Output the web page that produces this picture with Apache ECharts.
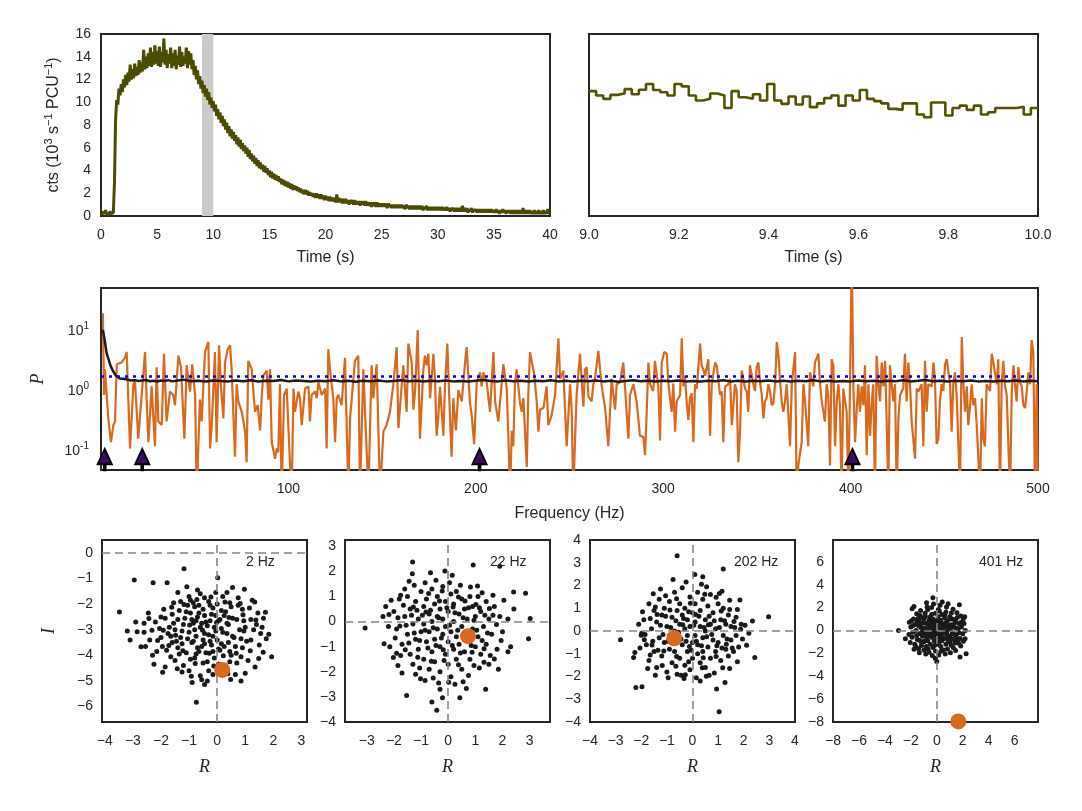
<!DOCTYPE html>
<html><head><meta charset="utf-8">
<script src="https://cdn.jsdelivr.net/npm/echarts@6/dist/echarts.min.js"></script>
<style>html,body{margin:0;padding:0;background:#fff}#c{width:1082px;height:811px}</style>
</head><body><div id="c"></div>
<script>
// ---------------- DATA ----------------
// Light curve (10^3 cts/s/PCU), 0.1 s samples starting at t = 0
const lcStart = 0, lcStep = 0.1;
const lcCounts = [
0.3,0.1,0.4,0.2,0.5,0.2,0.3,0.1,0.4,0.2,0.3,
0.3,3.0,8.5,10.2,9.8,11.2,10.6,11.6,10.9,12.0,
11.3,12.4,11.5,12.6,11.8,13.3,12.0,12.9,12.1,13.4,
12.3,13.1,12.4,13.7,12.6,13.5,12.7,14.6,12.9,14.0,
13.0,14.3,13.2,14.8,13.1,14.4,13.3,15.0,13.4,14.5,
13.2,14.9,13.1,14.4,13.5,15.6,13.3,14.6,13.0,14.2,
13.4,14.8,13.0,14.3,13.2,14.6,12.9,14.1,13.3,14.9,
13.1,14.4,13.2,14.0,13.4,14.8,13.0,14.5,13.3,14.3,
12.9,13.7,12.4,13.2,12.0,12.8,11.6,12.3,11.2,11.9,
10.8,11.5,10.5,11.2,10.2,10.9,9.8,10.4,9.5,10.1,
9.2,9.8,8.8,9.4,8.5,9.1,8.2,8.8,7.9,8.5,
7.6,8.2,7.3,7.9,7.0,7.6,6.8,7.4,6.6,7.1,
6.3,6.9,6.1,6.7,5.9,6.4,5.7,6.2,5.5,6.0,
5.2,5.8,5.0,5.5,4.8,5.3,4.6,5.1,4.4,4.9,
4.2,4.7,4.1,4.5,3.9,4.4,3.8,4.2,3.6,4.0,
3.4,3.9,3.3,3.7,3.2,3.6,3.1,3.5,3.0,3.3,
2.8,3.2,2.7,3.1,2.6,3.0,2.5,2.9,2.4,2.8,
2.3,2.7,2.3,2.6,2.2,2.5,2.1,2.4,2.0,2.3,
1.9,2.3,1.9,2.2,1.8,2.1,1.8,2.0,1.7,2.0,
1.6,2.0,1.6,1.9,1.5,1.9,1.5,1.8,1.4,1.8,
1.4,1.7,1.3,1.7,1.3,1.6,1.3,1.6,1.2,1.9,
1.2,1.6,1.2,1.5,1.1,1.5,1.1,1.5,1.1,1.4,
1.0,1.4,1.1,1.4,1.0,1.4,1.0,1.3,1.0,1.3,
0.9,1.3,1.0,1.3,0.9,1.3,0.9,1.2,0.9,1.2,
0.8,1.2,0.9,1.2,0.8,1.2,0.8,1.1,0.8,1.1,
0.8,1.1,0.8,1.1,0.7,1.1,0.8,1.0,0.7,1.0,
0.7,1.0,0.7,1.0,0.7,1.0,0.7,1.0,0.7,0.9,
0.6,1.0,0.7,0.9,0.6,0.9,0.6,0.9,0.6,0.9,
0.6,0.9,0.6,0.9,0.6,0.9,0.5,0.8,0.6,0.9,
0.5,0.8,0.5,0.8,0.5,0.8,0.5,0.8,0.5,0.8,
0.5,0.8,0.5,0.8,0.5,0.7,0.5,0.8,0.5,0.7,
0.4,0.7,0.5,0.7,0.4,0.7,0.4,0.7,0.4,0.7,
0.4,0.9,0.4,0.7,0.4,0.7,0.3,0.6,0.4,0.7,
0.3,0.6,0.4,0.6,0.3,0.6,0.3,0.6,0.3,0.6,
0.3,0.6,0.3,0.6,0.3,0.6,0.3,0.6,0.3,0.5,
0.3,0.6,0.3,0.5,0.2,0.5,0.3,0.6,0.3,0.5,
0.2,0.5,0.3,0.5,0.2,0.5,0.2,0.5,0.2,0.5,
0.2,0.5,0.2,0.5,0.2,0.7,0.2,0.5,0.2,0.5,
0.2,0.5,0.2,0.4,0.2,0.5,0.2,0.4,0.2,0.5,
0.2,0.4,0.2,0.5,0.2,0.4,0.2,0.6,0.2,0.4
];
// Zoomed light curve, binned, from 9.0 s to 10.0 s
const zoomStart = 9.0, zoomEnd = 10.0;
const zoomCounts = [10.98,10.6,10.3,10.65,10.77,11.15,10.7,11.1,11.6,11.08,10.88,10.6,11.6,11.4,10.6,10.15,10.3,10.77,10.6,9.5,
10.98,10.44,10.3,10.7,10.15,11.6,10.15,9.86,10.5,9.8,10.5,9.57,9.9,10.36,10.6,9.7,10.6,10.15,11.08,10.3,
10.1,9.9,9.42,9.33,9.9,9.9,8.92,8.68,9.98,9.98,8.83,9.5,9.7,9.33,9.7,8.92,9.12,9.5,9.5,9.5,9.6,8.92,9.5];
const bandRange = [9, 10];

// Power spectrum [frequency Hz, power]
const pdsPower = [
[1,20],[1.6,0.86],[2.1,2.3],[3.9,0.35],[5.3,0.14],[6.6,0.27],[7.5,0.31],[8.4,2.8],[11.0,3.0],[12.8,3.6],[13.7,4.5],[15.5,0.11],[17.3,1.3],[18.1,1.5],[19.9,0.16],[23.5,4.5],[24.4,0.67],[25.3,0.14],[27.0,1.2],[28.8,0.12],[29.7,2.5],[30.6,0.31],[32.4,0.27],[33.6,4.2],[35.0,0.31],[36.8,0.98],[38.6,0.86],[39.5,0.58],[41.3,3.9],[42.7,2.5],[44.5,0.16],[45.7,2.7],[47.5,0.98],[48.7,2.8],[50.2,0.86],[51.1,0.02],[52.8,0.72],[53.7,0.31],[55.5,4.5],[57.3,6.6],[58.2,0.11],[59.1,0.27],[60.8,4.5],[61.7,0.14],[63.0,5.8],[64.0,1.2],[65.3,0.35],[66.2,3.0],[67.6,5.0],[68.9,5.8],[69.7,2.3],[71.5,0.08],[72.4,1.3],[73.3,0.67],[75.1,0.45],[76.9,0.21],[77.7,0.065],[78.6,3.2],[80.4,2.3],[82.2,0.45],[83.6,0.58],[84.9,0.22],[85.8,0.86],[86.6,1.8],[88.4,2.2],[89.3,0.72],[90.2,2.3],[91.1,0.14],[92.9,0.074],[93.8,0.11],[94.6,0.095],[95.5,1.3],[96.4,0.02],[97.7,0.86],[99.1,1.1],[100.9,0.057],[101.8,0.02],[102.7,1.1],[103.5,0.45],[105.3,0.98],[106.2,0.76],[107.1,0.27],[108.9,1.1],[110.7,1.2],[111.5,0.31],[112.4,0.86],[114.2,0.98],[115.1,0.76],[116.0,1.4],[117.8,0.86],[119.6,1.1],[120.4,0.11],[121.3,5.0],[122.2,2.3],[124.0,0.72],[124.9,0.14],
[125.8,0.76],[126.6,0.86],[128.4,0.58],[130.2,3.6],[132.0,0.02],[132.9,0.35],[135.5,3.2],[137.3,3.9],[138.2,0.02],[140.0,2.3],[140.9,0.45],[142.7,0.02],[144.4,2.7],[145.3,0.76],[147.1,2.8],[148.9,0.02],[150.7,0.21],[152.4,0.27],[154.2,0.45],[156.0,1.3],[157.8,5.4],[158.7,0.24],[160.4,1.2],[161.3,2.7],[163.1,0.45],[164.0,6.2],[165.8,3.0],[166.7,0.49],[167.6,0.98],[169.0,10.4],[170.2,0.16],[172.0,2.3],[172.9,3.9],[173.8,2.7],[174.7,4.2],[175.6,0.76],[177.4,4.2],[178.2,1.6],[179.1,0.18],[180.0,0.38],[180.9,1.18],[182.7,0.18],[183.6,1.3],[184.8,6.2],[186.2,0.4],[187.1,0.08],[188.0,0.76],[189.4,0.22],[190.7,1.04],[192.5,0.67],[194.2,2.8],[195.1,5.4],[196.9,0.63],[197.8,0.4],[199.1,0.13],[200.5,1.4],[202.3,2.05],[203.1,1.2],[204.0,2.05],[205.8,1.4],[207.6,0.45],[209.4,4.5],[210.3,0.67],[212.0,0.31],[213.8,1.3],[214.7,2.8],[216.5,1.1],[217.4,0.17],[218.3,0.02],[219.2,0.22],[220.0,0.12],[220.9,1.3],[221.8,2.3],[223.6,0.63],[224.5,0.45],[225.4,0.76],[227.2,0.054],[228.0,0.86],[228.9,4.5],[229.8,4.7],[231.1,1.93],[232.5,0.67],[233.4,0.21],[234.3,0.49],[236.1,0.52],[237.8,1.2],[238.7,0.27],[240.5,0.4],[242.3,0.86],[244.1,7.6],[245.0,1.6],[246.7,2.2],[248.5,0.12],
[250.3,1.3],[251.2,0.45],[252.0,0.02],[253.8,0.86],[255.6,4.2],[257.4,0.55],[258.3,2.3],[259.2,2.5],[260.1,0.81],[261.8,0.67],[262.7,1.3],[263.6,1.6],[265.4,4.7],[267.2,1.2],[269.0,0.52],[270.7,0.12],[272.5,1.6],[274.3,0.49],[275.2,1.3],[277.0,1.4],[278.7,3.0],[279.6,1.2],[281.4,0.16],[282.3,0.86],[284.1,1.3],[285.8,0.67],[287.6,0.18],[289.4,0.17],[290.3,0.085],[291.2,0.45],[292.1,3.0],[293.0,1.3],[294.7,1.0],[295.6,3.2],[297.4,1.2],[298.3,0.15],[299.2,3.0],[300.6,4.5],[301.9,4.2],[302.8,1.3],[304.5,0.45],[305.4,1.33],[306.3,0.21],[307.2,0.67],[309.0,0.86],[309.9,7.6],[310.8,1.2],[311.6,1.8],[312.5,0.67],[313.4,0.33],[314.3,0.76],[315.2,0.92],[316.1,0.14],[317.0,1.3],[317.9,1.1],[319.7,6.2],[320.5,2.7],[321.4,2.3],[322.3,1.8],[324.1,3.4],[325.0,0.18],[325.9,1.3],[327.7,3.0],[328.5,2.7],[329.4,1.6],[330.3,0.86],[331.2,0.98],[332.1,0.14],[333.0,1.18],[333.9,1.1],[334.8,1.3],[335.7,1.6],[336.6,0.27],[338.3,1.3],[339.2,1.0],[340.1,0.065],[341.0,0.21],[341.9,2.2],[343.7,1.1],[344.6,0.98],[345.4,0.45],[346.3,2.7],[348.1,1.3],[349.0,1.0],[349.9,2.5],[350.8,3.0],[351.7,1.4],[352.6,0.86],[353.5,0.35],[354.3,0.67],[355.2,0.76],[356.1,1.3],[357.0,0.98],[357.9,0.58],[358.8,0.63],[359.7,1.3],[360.6,6.6],[361.5,3.9],[362.3,1.6],[363.2,0.67],[364.1,0.45],[365.0,0.67],[365.9,1.3],[366.8,0.4],[367.7,0.12],[368.6,1.3],[370.4,4.5],[371.2,0.02],[372.1,0.057],[373.9,0.14],
[374.8,1.3],[375.7,0.67],[377.4,0.12],[378.3,2.05],[380.1,1.2],[381.0,3.0],[382.8,4.2],[383.7,1.3],[384.6,0.67],[385.5,0.45],[386.3,0.31],[387.2,1.3],[388.1,0.86],[389.0,0.057],[389.9,3.4],[390.8,2.7],[391.7,0.12],[392.6,0.67],[393.5,1.3],[394.3,0.58],[395.2,0.02],[396.1,1.1],[397.9,0.45],[398.8,0.02],[399.7,1.3],[400.6,200],[401.5,1.1],[402.4,0.14],[403.2,0.45],[404.1,1.3],[405.0,0.45],[405.9,1.2],[406.8,0.58],[407.7,2.7],[408.6,0.085],[409.5,1.3],[410.4,0.18],[411.2,0.58],[412.1,1.3],[413.0,0.02],[413.9,3.9],[414.8,1.3],[415.7,0.67],[416.6,3.0],[417.5,1.2],[418.4,3.2],[419.3,0.27],[420.1,0.02],[421.0,2.7],[421.9,1.3],[422.8,0.67],[423.7,1.3],[424.6,0.02],[425.5,0.35],[426.4,0.86],[427.3,0.98],[428.1,1.1],[429.0,4.2],[429.9,0.67],[430.8,3.0],[431.7,1.3],[432.6,0.31],[433.5,0.31],[434.4,0.074],[435.3,1.1],[436.2,0.98],[437.9,1.3],[438.8,0.12],[439.7,3.2],[440.6,0.45],[441.5,1.3],[442.4,1.4],[443.3,1.2],[444.2,3.0],[445.0,1.6],[445.9,0.13],[446.8,0.16],[447.7,0.67],[448.6,1.3],[449.5,1.0],[450.4,2.8],[451.3,3.4],[452.2,2.05],[453.1,1.3],[453.9,0.21],[454.8,1.3],[455.7,2.05],[456.6,0.86],[458.4,0.02],[459.3,8.0],[460.2,1.3],[461.1,0.45],[462.0,1.2],[462.8,0.27],[463.7,0.55],[464.6,1.3],[465.5,0.58],[466.4,0.76],[467.3,0.27],[469.1,0.02],[470.0,0.76],[470.8,0.16],[471.7,0.12],[472.6,1.3],[474.4,1.0],[475.3,4.2],[476.2,3.0],[478.0,1.3],[478.8,3.4],[479.7,0.02],[480.6,1.3],[481.5,3.2],[482.4,1.2],[483.3,0.86],[485.1,0.02],[486.0,0.98],[486.9,2.7],[487.7,1.3],[488.6,0.67],[489.5,2.5],[490.4,1.4],[491.3,1.2],[492.2,0.58],[493.1,0.52],[494.0,0.98],[494.9,2.05],[495.8,1.3],[496.6,7.1],[497.5,4.5],[498.4,0.02],[499.3,1.3],[500,0.02]
];
// Averaged power [frequency Hz, power]
const avgPower = [
[1,10.5],[2,7.0],[3,4.3],[4,3.4],[5,2.7],[6,2.3],[7,2.0],[8,1.8],[9,1.68],[10,1.62],[12,1.6],[14,1.56],[16,1.5],[18,1.52],[20,1.47],[22,1.5],[24,1.53],[26,1.46],[28,1.49],[30,1.44],[32,1.5],[34,1.47],[36,1.52],[38,1.45],[40,1.48],
[44,1.55],[48,1.46],[52,1.49],[56,1.44],[60,1.5],[64,1.47],[68,1.45],[72,1.5],[76,1.46],[80,1.52],[84,1.44],[88,1.49],[92,1.47],[96,1.53],[100,1.45],[104,1.5],[108,1.47],[112,1.44],[116,1.49],[120,1.46],
[124,1.51],[128,1.45],[132,1.48],[136,1.43],[140,1.49],[144,1.46],[148,1.5],[152,1.45],[156,1.47],[160,1.52],[164,1.46],[168,1.49],[172,1.44],[176,1.48],[180,1.46],[184,1.5],[188,1.45],[192,1.47],[196,1.44],[200,1.49],
[204,1.53],[208,1.47],[212,1.45],[216,1.5],[220,1.46],[224,1.48],[228,1.44],[232,1.49],[236,1.46],[240,1.51],[244,1.45],[248,1.48],[252,1.44],[256,1.49],[260,1.46],[264,1.5],[268,1.45],[272,1.48],[276,1.43],[280,1.47],
[284,1.52],[288,1.46],[292,1.49],[296,1.44],[300,1.48],[304,1.46],[308,1.5],[312,1.45],[316,1.47],[320,1.44],[324,1.49],[328,1.46],[332,1.51],[336,1.45],[340,1.48],[344,1.44],[348,1.49],[352,1.46],[356,1.5],[360,1.45],
[364,1.48],[368,1.44],[372,1.49],[376,1.46],[380,1.52],[384,1.45],[388,1.48],[392,1.44],[396,1.47],[400,1.45],[404,1.5],[408,1.46],[412,1.49],[416,1.44],[420,1.48],[424,1.46],[428,1.51],[432,1.45],[436,1.48],[440,1.53],
[444,1.46],[448,1.49],[452,1.44],[456,1.48],[460,1.46],[464,1.5],[468,1.45],[472,1.47],[476,1.44],[480,1.49],[484,1.46],[488,1.5],[492,1.45],[496,1.48],[500,1.46]
];
const detectLevel = 1.8;
const candFreqs = [2, 22, 202, 401];

// Phase-space clouds (R, I) for each candidate frequency
const cloud2 = [
[-3.48,-2.31],[-2.95,-1.06],[-2.28,-1.17],[-1.78,-1.17],[-1.18,-0.62],[0.02,-0.97],[-0.74,-5.83],[0.97,-1.42],[1.34,-1.92],[1.94,-4.05],[1.84,-3.18],[1.64,-3.88],[0.48,-4.94],[-0.45,-5.14],[-0.89,-5.06],[-1.94,-4.66],[-2.71,-3.66],[-2.85,-3.08],[-2.43,-2.56],
[-2.2,-2.7],[-2.0,-3.3],[-1.9,-2.2],[-1.8,-3.8],[-1.7,-2.9],[-1.6,-3.5],[-1.6,-2.4],[-1.5,-4.2],[-1.5,-3.0],[-1.4,-2.6],[-1.4,-3.7],[-1.3,-1.9],[-1.3,-3.3],[-1.2,-4.4],[-1.2,-2.8],[-1.1,-3.9],[-1.1,-2.3],[-1.0,-3.1],[-1.0,-1.7],[-1.0,-4.6],[-0.9,-2.6],[-0.9,-3.5],[-0.8,-2.1],[-0.8,-4.1],[-0.8,-3.0],[-0.7,-2.5],[-0.7,-3.7],[-0.6,-1.6],[-0.6,-4.8],[-0.6,-2.9],[-0.5,-3.4],[-0.5,-2.2],[-0.5,-4.3],[-0.4,-2.7],[-0.4,-3.9],[-0.3,-1.9],[-0.3,-3.2],[-0.3,-4.6],[-0.2,-2.4],[-0.2,-3.6],[-0.1,-2.9],[-0.1,-4.1],[0.0,-2.0],[0.0,-3.4],[0.1,-2.6],[0.1,-3.8],[0.2,-1.7],[0.2,-3.1],[0.3,-4.4],[0.3,-2.3],[0.4,-3.5],[0.4,-2.8],[0.5,-4.0],[0.5,-2.1],[0.6,-3.3],[0.7,-2.6],[0.7,-4.3],[0.8,-3.0],[0.9,-2.2],[0.9,-3.7],[1.0,-2.9],[1.1,-4.2],[1.2,-2.6],[1.2,-3.4],[1.3,-3.0],[1.4,-2.8],[1.5,-3.6],[1.6,-2.9],[1.0,-4.7],[-2.4,-3.4],[-2.6,-3.1],[-2.3,-4.0],[-2.0,-2.5],
[-0.95,-2.35],[-0.85,-2.75],[-0.75,-3.25],[-0.65,-2.05],[-0.55,-3.65],[-0.45,-2.45],[-0.35,-2.85],[-0.25,-3.45],[-0.15,-2.15],[-0.05,-3.05],[0.05,-2.65],[0.15,-3.55],[0.25,-2.45],[0.35,-3.15],[0.45,-1.95],[-1.25,-3.55],[-1.15,-2.55],[-1.05,-3.35],[-0.95,-4.15],[-0.85,-1.95],[-0.75,-2.65],[-0.65,-3.85],[-0.55,-2.75],[-0.45,-3.15],[-0.35,-4.25],[-0.25,-2.05],[-0.15,-3.85],[-0.05,-2.45],[0.05,-4.35],[0.15,-2.25],[0.25,-3.65],[0.35,-2.75],[0.45,-3.85],[0.55,-2.55],[0.65,-3.65],[0.75,-2.05],[0.85,-3.35],[0.95,-2.65],[1.05,-3.45],[1.15,-2.15],[-1.35,-2.25],[-1.45,-3.45],[-1.55,-2.75],[-1.65,-4.05],[-1.75,-3.15],[-1.85,-2.55],[-1.95,-3.65],[-2.05,-2.95],[-2.15,-3.85],[-1.25,-4.65],[-0.55,-4.95],[-0.15,-4.75],[0.25,-4.55],[0.65,-4.75],[0.75,-1.75],[0.35,-1.55],[-0.45,-1.75],[-0.95,-1.85],[-1.55,-1.95],[1.25,-1.85],[1.45,-2.35],[1.65,-2.55],[1.75,-3.35],[1.35,-4.45],[-2.45,-2.35],[-2.55,-3.65],[-1.05,-2.05],[-0.65,-2.35],[-0.25,-2.65],[0.15,-2.95],[0.55,-3.25],[0.95,-3.05],[-0.85,-3.45],[-1.25,-3.05],[-0.45,-3.55],[0.05,-3.75],[-1.65,-3.25],[-0.15,-3.25],[-0.75,-3.95],[0.45,-4.25],[-1.35,-3.95],[1.55,-3.15],[0.85,-4.05],[-2.25,-4.35],[-1.85,-4.45],[-0.35,-5.0],[0.85,-5.0],[-0.05,-1.55],[-0.7,-1.45],[-1.4,-1.55],[0.55,-1.35],[-3.1,-3.4],[-2.9,-2.7],[-3.2,-3.05],[-2.6,-2.75],
[-1.62,-2.12],[-1.18,-2.02],[-0.72,-1.82],[-0.22,-1.72],[0.28,-1.92],[0.82,-1.98],[-1.92,-3.02],[-1.48,-3.22],[-0.98,-2.82],[-0.52,-3.02],[-0.02,-2.72],[0.42,-2.52],[0.92,-2.42],[1.38,-2.62],[-2.12,-3.42],[-1.72,-3.62],[-1.22,-3.82],[-0.78,-4.32],[-0.28,-3.92],[0.22,-4.02],[0.68,-3.92],[1.18,-3.82],[-1.42,-4.52],[-0.92,-4.82],[-0.12,-4.42],[0.38,-4.72],[1.48,-4.12],[-2.32,-3.02],[1.72,-2.32],[-1.08,-1.32]
];
const cloud22 = [
[-1.31,2.37],[-1.32,1.91],[-1.44,1.61],[-0.12,2.02],[0.92,2.25],[1.9,2.2],[1.08,1.42],[2.41,1.18],[2.85,1.13],[3.02,0.12],[2.96,-0.68],[2.42,0.5],[2.3,-1.0],[-3.06,-0.26],[-2.36,-0.88],[-1.53,-2.94],[-0.6,-3.2],[-0.42,-3.53],[-0.21,-3.03],[0.43,-3.03],[0.67,-2.67],[1.38,-2.7],[1.7,-1.49],[-1.9,-1.26],[-2.02,-1.43],
[-2.0,0.4],[-1.9,-0.3],[-1.8,0.9],[-1.7,-0.9],[-1.6,0.2],[-1.5,-0.5],[-1.5,1.0],[-1.4,-1.3],[-1.4,0.5],[-1.3,-0.1],[-1.3,-1.7],[-1.2,0.8],[-1.2,-0.7],[-1.1,0.1],[-1.1,-1.1],[-1.0,1.2],[-1.0,-0.4],[-0.9,0.6],[-0.9,-1.5],[-0.9,-0.1],[-0.8,0.9],[-0.8,-0.8],[-0.7,0.3],[-0.7,-1.9],[-0.7,-0.4],[-0.6,1.3],[-0.6,-1.2],[-0.6,0.0],[-0.5,0.7],[-0.5,-0.7],[-0.5,-1.6],[-0.4,0.2],[-0.4,-0.3],[-0.4,1.0],[-0.3,-1.0],[-0.3,0.5],[-0.3,-2.0],[-0.2,-0.5],[-0.2,1.4],[-0.2,0.1],[-0.1,-1.3],[-0.1,0.8],[-0.1,-0.2],[0.0,-0.8],[0.0,0.4],[0.0,-1.7],[0.1,1.1],[0.1,-0.4],[0.1,-2.2],[0.2,0.0],[0.2,-1.1],[0.2,0.7],[0.3,-0.6],[0.3,-1.5],[0.3,1.2],[0.4,0.3],[0.4,-0.9],[0.5,-0.2],[0.5,0.9],[0.5,-1.9],[0.6,-1.2],[0.6,0.5],[0.7,0.1],[0.7,-0.7],[0.8,1.0],[0.8,-1.5],[0.9,-0.3],[0.9,0.6],[1.0,-1.0],[1.0,0.2],[1.1,-0.6],[1.1,1.0],[1.2,-1.3],[1.2,0.4],[1.3,-0.2],[1.4,0.8],[1.4,-0.9],[1.5,0.1],[1.6,-0.5],[1.7,0.6],[1.8,-1.1],[1.9,0.2],[2.0,-0.4],
[-1.95,-0.65],[-1.85,0.15],[-1.75,-1.35],[-1.65,0.65],[-1.55,-0.15],[-1.45,-0.85],[-1.35,0.25],[-1.25,-0.45],[-1.15,0.45],[-1.05,-0.75],[-0.95,0.25],[-0.85,-0.35],[-0.75,-1.05],[-0.65,0.45],[-0.55,-0.25],[-0.45,-0.95],[-0.35,0.15],[-0.25,-0.65],[-0.15,-1.55],[-0.05,0.55],[0.05,-0.15],[0.15,-0.95],[0.25,0.35],[0.35,-0.35],[0.45,-1.25],[0.55,0.15],[0.65,-0.45],[0.75,0.55],[0.85,-0.95],[0.95,0.05],[1.05,-0.35],[1.15,0.55],[1.25,-0.75],[1.35,0.25],[1.45,-0.45],[1.55,-1.35],[1.65,0.25],[-1.25,1.45],[-0.85,1.55],[-0.45,1.65],[0.05,1.55],[0.45,1.45],[1.25,1.15],[1.65,1.05],[-1.6,1.3],[-2.1,0.85],[-2.2,-0.2],[-2.15,-1.0],[-1.85,-1.75],[-1.2,-2.1],[-0.85,-2.35],[-0.35,-2.45],[0.25,-2.5],[0.75,-2.15],[1.15,-1.85],[1.5,-1.7],[1.95,-0.75],[2.2,0.1],[2.05,0.85],[-1.05,-1.85],[0.55,-2.4],[-0.55,-2.25],[0.95,-1.75],[-2.4,0.2],[-2.3,0.6],[-0.3,-2.7],[-1.7,-2.05],[2.2,-1.2],[1.85,-1.9],[0.15,1.85],[-0.65,1.95],[-1.75,1.05],
[-1.58,-1.12],[-1.12,-1.42],[-0.62,-1.58],[-0.18,-1.12],[0.38,-1.72],[0.88,-1.22],[1.32,-1.08],[-1.78,-0.18],[-1.28,0.58],[-0.82,0.38],[-0.32,0.82],[0.18,0.58],[0.62,0.82],[1.02,0.68],[1.52,0.52],[-0.72,1.12],[-0.22,1.22],[0.38,0.98],[0.82,1.38],[-1.02,-2.28],[0.02,-2.42],[1.32,-1.62],[-2.18,0.28],[1.78,-0.12]
];
const cloud202 = [
[-0.6,3.31],[1.2,2.73],[0.09,2.48],[0.4,2.38],[-0.76,2.26],[2.97,0.63],[2.34,0.44],[2.43,-1.17],[2.11,-0.63],[-2.81,-0.39],[-2.25,-0.95],[-2.3,-1.17],[-2.21,-2.48],[-1.97,-2.45],[0.94,-2.55],[1.27,-2.26],[1.04,-3.55],[-0.33,-2.09],[0.54,-1.99],[1.85,1.36],[-1.53,1.64],[-2.0,-0.19],[-1.98,-0.1],
[-1.9,0.5],[-1.8,-0.6],[-1.7,1.2],[-1.7,-1.3],[-1.6,0.1],[-1.5,-0.9],[-1.5,0.9],[-1.4,-1.6],[-1.4,0.4],[-1.3,-0.3],[-1.3,1.4],[-1.2,-1.1],[-1.2,0.7],[-1.1,-0.5],[-1.1,1.0],[-1.0,-1.8],[-1.0,0.2],[-0.9,-0.8],[-0.9,1.3],[-0.9,-0.2],[-0.8,0.6],[-0.8,-1.4],[-0.7,0.0],[-0.7,1.7],[-0.7,-0.9],[-0.6,0.9],[-0.6,-1.9],[-0.6,-0.4],[-0.5,0.3],[-0.5,1.2],[-0.5,-1.2],[-0.4,-0.6],[-0.4,0.7],[-0.4,1.9],[-0.3,-1.5],[-0.3,0.1],[-0.3,1.0],[-0.2,-0.9],[-0.2,0.5],[-0.2,-0.2],[-0.1,1.5],[-0.1,-1.7],[-0.1,0.2],[0.0,-0.5],[0.0,0.8],[0.0,-1.2],[0.1,1.2],[0.1,-0.2],[0.1,0.4],[0.2,-1.0],[0.2,1.7],[0.2,-0.6],[0.3,0.2],[0.3,-1.4],[0.3,0.9],[0.4,-0.3],[0.4,1.4],[0.4,-0.9],[0.5,0.5],[0.5,-1.6],[0.5,0.0],[0.6,1.1],[0.6,-0.7],[0.7,0.3],[0.7,-1.2],[0.7,1.6],[0.8,-0.4],[0.8,0.8],[0.9,-0.9],[0.9,0.1],[1.0,1.2],[1.0,-0.5],[1.1,0.5],[1.1,-1.3],[1.2,-0.2],[1.2,1.0],[1.3,-0.8],[1.3,0.3],[1.4,-1.1],[1.4,0.7],[1.5,-0.4],[1.5,0.2],[1.6,-0.9],[1.7,0.6],[1.7,-0.2],[1.8,-0.7],[1.9,0.3],
[-1.85,-0.15],[-1.65,0.55],[-1.55,-0.45],[-1.45,1.05],[-1.35,-0.85],[-1.25,0.25],[-1.15,-0.15],[-1.05,0.65],[-0.95,-0.45],[-0.85,0.15],[-0.75,-0.55],[-0.65,0.45],[-0.55,-0.05],[-0.45,-0.35],[-0.35,0.55],[-0.25,-0.45],[-0.15,0.85],[-0.05,-0.85],[0.05,0.25],[0.15,-0.45],[0.25,0.65],[0.35,-0.65],[0.45,0.15],[0.55,-0.25],[0.65,0.65],[0.75,-0.15],[0.85,0.45],[0.95,-0.65],[1.05,0.15],[1.15,-0.75],[1.25,0.45],[1.35,-0.35],[1.45,0.95],[1.55,-0.75],[1.65,0.15],[1.05,1.65],[1.15,1.75],[0.55,1.95],[0.35,2.05],[-0.25,2.15],[-1.05,1.55],[-1.25,1.85],[1.45,1.35],[1.75,0.95],[1.95,-0.35],[2.05,0.25],[1.75,-1.35],[1.45,-1.65],[0.85,-1.85],[0.15,-2.05],[-0.45,-1.95],[-0.95,-2.05],[-1.45,-1.95],[-1.75,-1.65],[-2.05,-0.75],[-1.95,0.85],[-0.65,-1.55],[0.65,-1.95],[-0.15,-1.35],[-1.65,-1.05],[-2.1,0.3],[2.2,-0.1],[0.3,-2.2],
[-1.58,-0.62],[-1.12,-0.88],[-0.62,-1.12],[-0.12,-0.68],[0.42,-1.18],[0.92,-1.12],[1.32,-0.58],[-1.38,0.72],[-0.88,0.92],[-0.38,0.28],[0.12,0.72],[0.62,0.28],[1.12,0.88],[1.62,0.42],[-0.62,1.42],[-0.08,1.22],[0.48,1.62],[0.92,1.48],[-1.18,-1.52],[-0.28,-1.92],[0.38,-1.62],[1.18,-1.62],[-1.88,-0.38],[1.88,0.08]
];
const cloud401 = [
[-0.3,2.86],[-2.95,0],[0,-2.71],[2.26,-2.04],[1.79,-2.33],[1.74,2.24],[0.87,2.33],[-0.79,2.42],[-1.76,2.1],[-1.9,1.9],[2.18,-0.73],[2.05,1.02],[-2.42,-0.73],
[-2.0,0.3],[-1.9,-0.6],[-1.8,1.0],[-1.7,-1.2],[-1.6,0.0],[-1.5,-0.8],[-1.5,0.8],[-1.4,-1.6],[-1.4,0.4],[-1.3,-0.3],[-1.3,1.3],[-1.2,-1.0],[-1.2,0.6],[-1.1,-0.5],[-1.1,1.1],[-1.0,-1.7],[-1.0,0.2],[-0.9,-0.9],[-0.9,1.5],[-0.9,-0.2],[-0.8,0.6],[-0.8,-1.4],[-0.7,0.0],[-0.7,1.8],[-0.7,-0.9],[-0.6,0.9],[-0.6,-1.9],[-0.6,-0.4],[-0.5,0.3],[-0.5,1.2],[-0.5,-1.2],[-0.4,-0.6],[-0.4,0.7],[-0.4,2.0],[-0.3,-1.5],[-0.3,0.1],[-0.3,1.0],[-0.2,-0.9],[-0.2,0.5],[-0.2,-0.2],[-0.1,1.5],[-0.1,-1.8],[-0.1,0.2],[0.0,-0.5],[0.0,0.8],[0.0,-1.2],[0.1,1.2],[0.1,-0.2],[0.1,0.4],[0.2,-1.0],[0.2,1.7],[0.2,-0.6],[0.3,0.2],[0.3,-1.4],[0.3,0.9],[0.4,-0.3],[0.4,1.4],[0.4,-0.9],[0.5,0.5],[0.5,-1.7],[0.5,0.0],[0.6,1.1],[0.6,-0.7],[0.7,0.3],[0.7,-1.2],[0.7,1.6],[0.8,-0.4],[0.8,0.8],[0.9,-0.9],[0.9,0.1],[1.0,1.2],[1.0,-0.5],[1.1,0.5],[1.1,-1.3],[1.2,-0.2],[1.2,1.0],[1.3,-0.8],[1.3,0.3],[1.4,-1.1],[1.4,0.7],[1.5,-0.4],[1.5,0.2],[1.6,-0.9],[1.7,0.6],[1.7,-0.2],[1.8,-0.7],[1.9,0.3],[2.0,-0.3],[2.1,0.6],
[-1.85,-0.15],[-1.65,0.55],[-1.55,-0.45],[-1.45,1.05],[-1.35,-0.85],[-1.25,0.25],[-1.15,-0.15],[-1.05,0.65],[-0.95,-0.45],[-0.85,0.15],[-0.75,-0.55],[-0.65,0.45],[-0.55,-0.05],[-0.45,-0.35],[-0.35,0.55],[-0.25,-0.45],[-0.15,0.85],[-0.05,-0.85],[0.05,0.25],[0.15,-0.45],[0.25,0.65],[0.35,-0.65],[0.45,0.15],[0.55,-0.25],[0.65,0.65],[0.75,-0.15],[0.85,0.45],[0.95,-0.65],[1.05,0.15],[1.15,-0.75],[1.25,0.45],[1.35,-0.35],[1.45,0.95],[1.55,-0.75],[1.65,0.15],[1.85,1.25],[1.55,1.55],[1.25,1.85],[0.75,2.05],[0.25,2.2],[-0.25,2.3],[-0.75,2.05],[-1.25,1.75],[-1.55,1.45],[-1.95,0.85],[-2.15,-0.35],[-2.05,-1.05],[-1.75,-1.65],[-1.35,-1.95],[-0.85,-2.05],[-0.35,-2.2],[0.15,-2.15],[0.65,-2.05],[1.05,-1.95],[1.45,-1.75],[1.85,-1.35],[2.05,-0.95],[2.2,0.0],[2.15,1.2],[1.0,-1.0],[-1.0,1.0],[-1.0,-1.0],[1.0,1.0],
[-1.62,-1.42],[-1.18,-1.32],[-0.68,-1.62],[-0.18,-1.32],[0.32,-1.82],[0.82,-1.62],[1.28,-1.52],[1.68,-1.12],[-1.82,0.42],[-1.38,0.92],[-0.88,1.22],[-0.38,1.42],[0.12,1.82],[0.62,1.38],[1.12,1.52],[1.58,1.12],[1.88,0.72],[-2.12,0.72],[-0.12,-2.42],[0.42,2.48]
];
const clouds = [cloud2, cloud22, cloud202, cloud401];
// Summed vector (orange dot) per panel
const sumVectors = [[0.18,-4.57],[0.73,-0.58],[-0.71,-0.32],[1.66,-7.95]];
const panelLabels = ['2 Hz', '22 Hz', '202 Hz', '401 Hz'];
// Axis ranges for the bottom panels: [min, max, step]
const cloudX = [[-4.1,3.2,1],[-3.8,3.75,1],[-4,4,1],[-8,7.8,2]];
const cloudY = [[-6.6,0.5,1],[-4,3.25,1],[-4,4,1],[-8,7.9,2]];
const pMin = 0.048, pMax = 52.6;

// ---------------- STYLE / LAYOUT ----------------
const FONT = "'Liberation Sans', Arial, sans-serif";
const SERIF = "'Liberation Serif', 'DejaVu Serif', serif";
const INK = '#262626';
const ORANGE = '#d9691f';
const OLIVE = '#4b4b02';

const gridBoxes = [
  {left:101, top:34, width:449, height:182},
  {left:589, top:34, width:449, height:182},
  {left:101, top:288, width:937, height:182},
  {left:102, top:540, width:205, height:182},
  {left:345, top:540, width:205, height:182},
  {left:590, top:540, width:205, height:182},
  {left:833, top:540, width:205, height:182}
];
const grids = gridBoxes.map(g => Object.assign({show:true, borderColor:INK, borderWidth:2, backgroundColor:'#fff', containLabel:false, outerBoundsMode:'none'}, g));

function baseAxis(gi, extra) {
  return Object.assign({
    type:'value', gridIndex:gi,
    axisLine:{show:false}, axisTick:{show:false}, splitLine:{show:false},
    axisLabel:{color:INK, fontSize:14, fontFamily:FONT, margin:10},
    nameTextStyle:{color:INK, fontSize:16, fontFamily:FONT},
    nameLocation:'middle'
  }, extra);
}
const isMult = (v, s) => Math.abs(v/s - Math.round(v/s)) < 1e-9;
const minus = v => (v < 0 ? '\u2212' : '') + Math.abs(Math.round(v*100)/100);

const xAxes = [
  baseAxis(0, {min:0, max:40, interval:5, name:'Time (s)', nameGap:34, axisLabel:{color:INK, fontSize:14, fontFamily:FONT, margin:12}}),
  baseAxis(1, {min:9, max:10, interval:0.2, name:'Time (s)', nameGap:34, axisLabel:{color:INK, fontSize:14, fontFamily:FONT, margin:12, formatter:v=>v.toFixed(1)}}),
  baseAxis(2, {min:0, max:500, interval:100, name:'Frequency (Hz)', nameGap:36, axisLabel:{color:INK, fontSize:14, fontFamily:FONT, margin:12, showMinLabel:false}})
];
const yAxes = [
  baseAxis(0, {min:0, max:16, interval:2, name:'{t|cts (10}{s|3}{t| s}{s|\u22121}{t| PCU}{s|\u22121}{t|)}', nameGap:36,
    nameTextStyle:{rich:{t:{fontSize:16, fontFamily:FONT, color:INK, lineHeight:22}, s:{fontSize:11, fontFamily:FONT, color:INK, verticalAlign:'top', lineHeight:22}}}}),
  baseAxis(1, {min:0, max:16, interval:2, axisLabel:{show:false}}),
  baseAxis(2, {type:'log', logBase:10, min:pMin, max:pMax, name:'P', nameGap:54,
    nameTextStyle:{fontFamily:SERIF, fontStyle:'italic', fontSize:18, color:INK},
    axisLabel:{color:INK, fontFamily:FONT, margin:12, showMinLabel:false, showMaxLabel:false,
      formatter:v=>'{b|10}{e|' + String(Math.round(Math.log10(v))) + '}',
      rich:{b:{fontSize:14, fontFamily:FONT, color:INK, lineHeight:20}, e:{fontSize:10, fontFamily:FONT, color:INK, verticalAlign:'top', lineHeight:20}}}})
];
for (let k = 0; k < 4; k++) {
  const [x0, x1, xs] = cloudX[k], [y0, y1, ys] = cloudY[k];
  xAxes.push(baseAxis(3+k, {min:x0, max:x1, minInterval:xs, maxInterval:xs, splitNumber:8, name:'R', nameGap:36,
    nameTextStyle:{fontFamily:SERIF, fontStyle:'italic', fontSize:18, color:INK},
    axisLabel:{color:INK, fontSize:14, fontFamily:FONT, margin:12, formatter:minus, showMinLabel:isMult(x0,xs), showMaxLabel:isMult(x1,xs)}}));
  yAxes.push(baseAxis(3+k, {min:y0, max:y1, minInterval:ys, maxInterval:ys, splitNumber:8,
    name: k === 0 ? 'I' : '', nameGap:44,
    nameTextStyle:{fontFamily:SERIF, fontStyle:'italic', fontSize:18, color:INK},
    axisLabel:{color:INK, fontSize:14, fontFamily:FONT, margin:9, formatter:minus, showMinLabel:isMult(y0,ys), showMaxLabel:isMult(y1,ys)}}));
}

const series = [];
// light curve
series.push({type:'line', xAxisIndex:0, yAxisIndex:0, data: lcCounts.map((v,i)=>[lcStart + i*lcStep, v]),
  showSymbol:false, symbol:'none', lineStyle:{color:OLIVE, width:3}, z:3,
  markArea:{silent:true, itemStyle:{color:'#cbcbcb'}, data:[[{xAxis:bandRange[0]},{xAxis:bandRange[1]}]], z:1}});
// zoomed light curve (step)
const zBin = (zoomEnd - zoomStart) / zoomCounts.length;
const zData = zoomCounts.map((v,i)=>[zoomStart + i*zBin, v]);
zData.push([zoomEnd, zoomCounts[zoomCounts.length-1]]);
series.push({type:'line', xAxisIndex:1, yAxisIndex:1, data:zData, step:'end', symbol:'none', lineStyle:{color:'#545400', width:2.6}});
// power spectrum
series.push({type:'line', xAxisIndex:2, yAxisIndex:2, data:pdsPower, symbol:'none', clip:true, lineStyle:{color:ORANGE, width:2.2}, z:2});
series.push({type:'line', xAxisIndex:2, yAxisIndex:2, data:avgPower, symbol:'none', clip:true, lineStyle:{color:'#1c1c1c', width:2.5}, z:4,
  markLine:{silent:true, symbol:'none', label:{show:false}, lineStyle:{color:'#0000ff', type:[3,5], width:2.5, cap:'butt'}, data:[{yAxis:detectLevel}]}});
series.push({type:'scatter', xAxisIndex:2, yAxisIndex:2, data:candFreqs.map(f=>[f, pMin]), clip:false, z:6,
  symbol:'path://M7,0 L14,15 L0,15 Z M6,15 L8,15 L8,21 L6,21 Z', symbolSize:[14,21], symbolOffset:[0,-10.5],
  itemStyle:{color:'#3a0a68', borderColor:'#000', borderWidth:2, opacity:1}});
// phase-space panels
for (let k = 0; k < 4; k++) {
  series.push({type:'scatter', xAxisIndex:3+k, yAxisIndex:3+k, data:clouds[k], symbolSize:5, itemStyle:{color:'#1a1a1a', opacity:1}, z:2,
    markLine:{silent:true, symbol:'none', label:{show:false}, lineStyle:{color:'#858585', type:[8,5], width:1.6}, data:[{xAxis:0},{yAxis:0}], z:3}});
  series.push({type:'scatter', xAxisIndex:3+k, yAxisIndex:3+k, data:[sumVectors[k]], symbolSize:16, itemStyle:{color:ORANGE, opacity:1}, z:5});
}

const labelPos = [[246,555],[490,555],[734,555],[979,555]];
const graphic = panelLabels.map((t,k)=>({type:'text', left:labelPos[k][0], top:labelPos[k][1], z:10,
  style:{text:t, fontSize:14, fontFamily:FONT, fill:INK}}));

const chart = echarts.init(document.getElementById('c'), null, {renderer:'canvas'});
chart.setOption({animation:false, backgroundColor:'#fff', grid:grids, xAxis:xAxes, yAxis:yAxes, series, graphic});
</script></body></html>
